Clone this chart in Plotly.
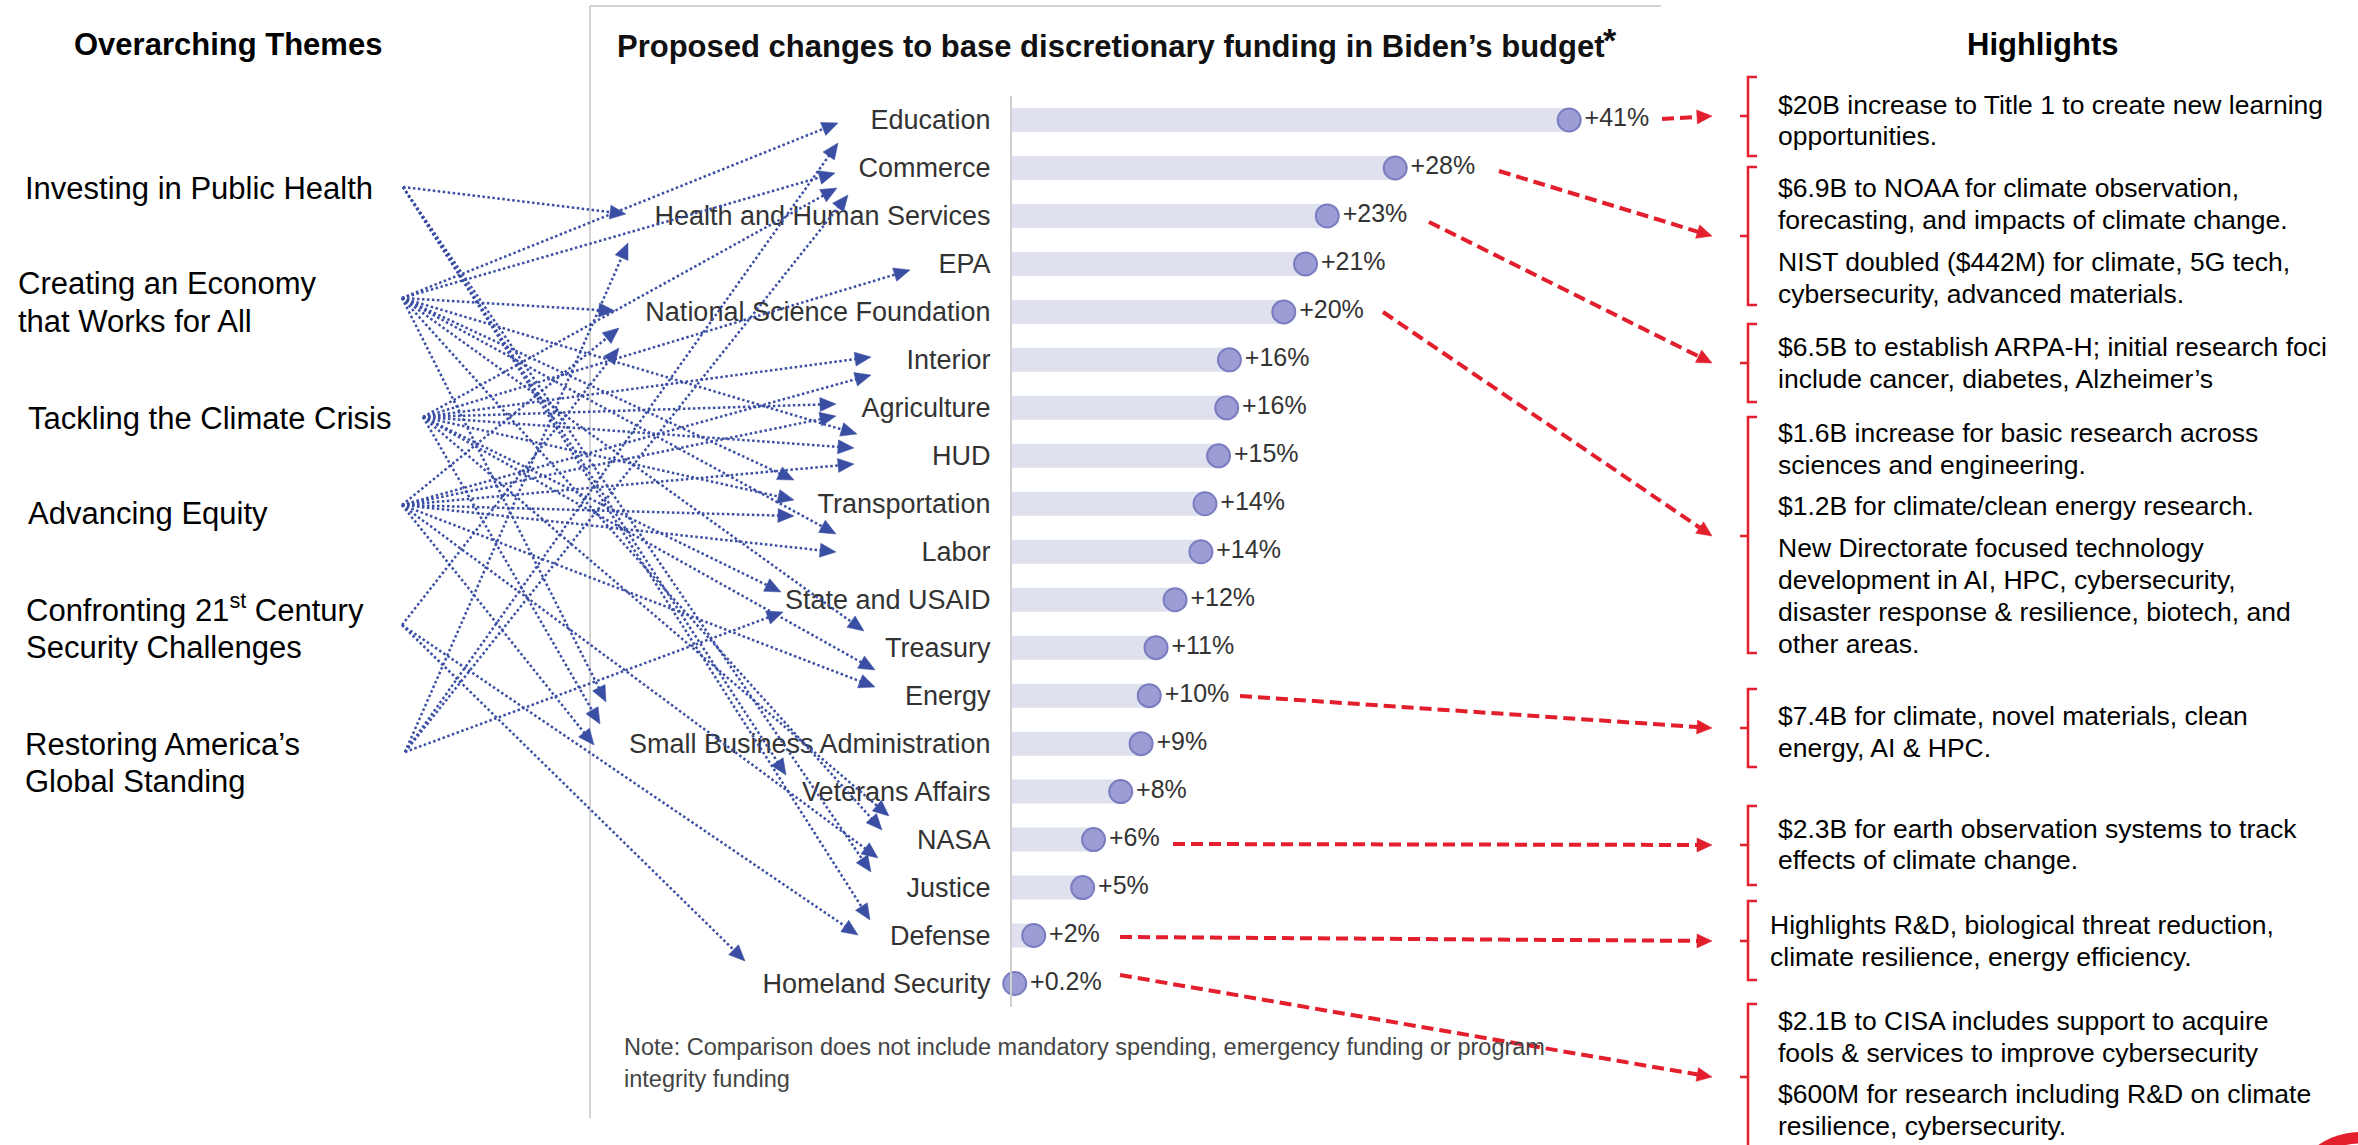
import plotly.graph_objects as go

W, H = 2358, 1145

# ---------------- data ----------------
departments = ["Education", "Commerce", "Health and Human Services", "EPA",
               "National Science Foundation", "Interior", "Agriculture", "HUD",
               "Transportation", "Labor", "State and USAID", "Treasury", "Energy",
               "Small Business Administration", "Veterans Affairs", "NASA",
               "Justice", "Defense", "Homeland Security"]
change_pct = [41, 28.2, 23.2, 21.6, 20, 16, 15.8, 15.2, 14.2, 13.9, 12, 10.6,
              10.1, 9.5, 8, 6, 5.2, 1.6, 0.2]
change_labels = ["+41%", "+28%", "+23%", "+21%", "+20%", "+16%", "+16%", "+15%",
                 "+14%", "+14%", "+12%", "+11%", "+10%", "+9%", "+8%", "+6%",
                 "+5%", "+2%", "+0.2%"]

themes = [["Investing in Public Health"],
          ["Creating an Economy", "that Works for All"],
          ["Tackling the Climate Crisis"],
          ["Advancing Equity"],
          ["Confronting 21<sup>st</sup> Century", "Security Challenges"],
          ["Restoring America’s", "Global Standing"]]

# theme index -> department links
link_theme = [1, 5, 1, 2, 5, 0, 5, 2, 1, 3, 4, 2, 3, 2, 3, 1, 2, 3, 1, 2, 3, 1, 3,
              2, 5, 1, 2, 3, 1, 2, 3, 0, 2, 1, 3, 0, 0, 4, 4]
link_dept = ["Education", "Education", "Commerce", "Commerce", "Commerce",
             "Health and Human Services", "Health and Human Services", "EPA",
             "National Science Foundation", "National Science Foundation",
             "National Science Foundation", "Interior", "Interior", "Agriculture",
             "Agriculture", "HUD", "HUD", "HUD", "Transportation", "Transportation",
             "Transportation", "Labor", "Labor", "State and USAID", "State and USAID",
             "Treasury", "Energy", "Energy", "Small Business Administration",
             "Small Business Administration", "Small Business Administration",
             "Veterans Affairs", "NASA", "NASA", "Justice", "Justice", "Defense",
             "Defense", "Homeland Security"]

highlight_depts = ["Education", "Commerce", "Health and Human Services",
                   "National Science Foundation", "Energy", "NASA", "Defense",
                   "Homeland Security"]
highlight_texts = [
    [["$20B increase to Title 1 to create new learning", "opportunities."]],
    [["$6.9B to NOAA for climate observation,", "forecasting, and impacts of climate change."],
     ["NIST doubled ($442M) for climate, 5G tech,", "cybersecurity, advanced materials."]],
    [["$6.5B to establish ARPA-H; initial research foci", "include cancer, diabetes, Alzheimer’s"]],
    [["$1.6B increase for basic research across", "sciences and engineering."],
     ["$1.2B for climate/clean energy research."],
     ["New Directorate focused technology", "development in AI, HPC, cybersecurity,",
      "disaster response & resilience, biotech, and", "other areas."]],
    [["$7.4B for climate, novel materials, clean", "energy, AI & HPC."]],
    [["$2.3B for earth observation systems to track", "effects of climate change."]],
    [["Highlights R&D, biological threat reduction,", "climate resilience, energy efficiency."]],
    [["$2.1B to CISA includes support to acquire", "fools & services to improve cybersecurity"],
     ["$600M for research including R&D on climate", "resilience, cybersecurity."]],
]

# ---------------- layout geometry (pixels) ----------------
theme_label_x = [23, 16, 26, 26, 24, 23]
theme_label_y = [[188], [284, 321], [418], [513], [608, 647], [744, 781]]
theme_origin = [(403, 187), (402, 298), (423, 417), (402, 505), (402, 625), (405, 752)]
link_tip = [(838, 123), (838, 143), (835, 173), (837, 188), (848, 195), (626, 214),
            (628, 243), (910, 270), (615, 311), (619, 328), (619, 348), (871, 357),
            (871, 375), (836, 404), (836, 416), (857, 434), (854, 448), (854, 464),
            (794, 480), (794, 500), (794, 516), (836, 534), (836, 552), (781, 592),
            (783, 612), (864, 631), (875, 670), (875, 687), (606, 702), (600, 724),
            (594, 745), (786, 775), (889, 816), (882, 830), (878, 858), (871, 872),
            (870, 920), (858, 935), (745, 961)]

red_start = [(1662, 119), (1499, 171), (1429, 222), (1383, 312), (1240, 696),
             (1173, 844), (1120, 937), (1120, 975)]
red_tip_x = 1712
bracket_tmb = [(77, 116, 156), (167, 236, 305), (324, 363, 402), (417, 536, 653),
               (689, 728, 767), (806, 845, 885), (901, 941, 980), (1004, 1077, 1165)]
highlight_x = [1776, 1776, 1776, 1776, 1776, 1776, 1768, 1776]
highlight_line_y = [[[105, 136]], [[188, 220], [262, 294]], [[347, 379]],
                    [[433, 465], [506], [548, 580, 612, 644]], [[716, 748]],
                    [[829, 860]], [[925, 957]], [[1021, 1053], [1094, 1126]]]

AX0, AX1 = 1012, 1012 + 50 * 13.59
ROW0, ROWN = 120, 983.5
ROWH = (ROWN - ROW0) / (len(departments) - 1)

BLUE = "#3a4ea3"
RED = "#e31e2d"
FONT = "Liberation Sans, Arial, sans-serif"


def px(x):
    return x / W


def py(y):
    return 1 - y / H


def arrow_head(x1, y1, x2, y2, length, half):
    dx, dy = x2 - x1, y2 - y1
    d = (dx * dx + dy * dy) ** 0.5
    ux, uy = dx / d, dy / d
    bx, by = x2 - ux * length, y2 - uy * length
    nx, ny = -uy, ux
    pts = [(x2, y2), (bx + nx * half, by + ny * half), (bx - nx * half, by - ny * half)]
    path = "M " + " L ".join(f"{px(a):.6f},{py(b):.6f}" for a, b in pts) + " Z"
    return path, (x2 - ux * length * 0.8, y2 - uy * length * 0.8)


shapes = []
annotations = []

# panel border
shapes.append(dict(type="line", xref="paper", yref="paper", x0=px(590), x1=px(590),
                   y0=py(6), y1=py(1118), line=dict(color="#c4c4c4", width=1.5)))
shapes.append(dict(type="line", xref="paper", yref="paper", x0=px(590), x1=px(1661),
                   y0=py(6), y1=py(6), line=dict(color="#c4c4c4", width=1.5)))

# blue dotted theme arrows
for t, (tx, ty) in zip(link_theme, link_tip):
    ox, oy = theme_origin[t]
    path, (ex, ey) = arrow_head(ox, oy, tx, ty, 16, 7)
    shapes.append(dict(type="line", xref="paper", yref="paper", x0=px(ox), y0=py(oy),
                       x1=px(ex), y1=py(ey), line=dict(color=BLUE, width=2.5, dash="2.5px,2.5px")))
    shapes.append(dict(type="path", xref="paper", yref="paper", path=path,
                       fillcolor=BLUE, line=dict(color=BLUE, width=0.5)))

# red dashed highlight arrows + brackets
for (sx, sy), (top, mid, bot) in zip(red_start, bracket_tmb):
    path, (ex, ey) = arrow_head(sx, sy, red_tip_x, mid, 15, 7)
    shapes.append(dict(type="line", xref="paper", yref="paper", x0=px(sx), y0=py(sy),
                       x1=px(ex), y1=py(ey), line=dict(color=RED, width=4, dash="12px,6px")))
    shapes.append(dict(type="path", xref="paper", yref="paper", path=path,
                       fillcolor=RED, line=dict(color=RED, width=0.5)))
    bpath = (f"M {px(1757):.6f},{py(top):.6f} L {px(1748):.6f},{py(top):.6f} "
             f"L {px(1748):.6f},{py(mid):.6f} L {px(1740):.6f},{py(mid):.6f} "
             f"L {px(1748):.6f},{py(mid):.6f} L {px(1748):.6f},{py(bot):.6f} "
             f"L {px(1757):.6f},{py(bot):.6f}")
    shapes.append(dict(type="path", xref="paper", yref="paper", path=bpath,
                       line=dict(color=RED, width=2.5)))

# logo fragment bottom-right
shapes.append(dict(type="circle", xref="paper", yref="paper",
                   x0=px(2287), x1=px(2433), y0=py(1132), y1=py(1278),
                   fillcolor=RED, line=dict(color=RED, width=0)))
shapes.append(dict(type="circle", xref="paper", yref="paper",
                   x0=px(2300), x1=px(2420), y0=py(1145), y1=py(1265),
                   line=dict(color="white", width=3)))

# titles
annotations.append(dict(text="<b>Overarching Themes</b>", x=px(228), y=py(45),
                        xref="paper", yref="paper", xanchor="center", yanchor="middle",
                        showarrow=False, font=dict(family=FONT, size=31, color="#000")))
annotations.append(dict(text="<b>Highlights</b>", x=px(2043), y=py(45),
                        xref="paper", yref="paper", xanchor="center", yanchor="middle",
                        showarrow=False, font=dict(family=FONT, size=31, color="#000")))
annotations.append(dict(text="<b>Proposed changes to base discretionary funding in Biden’s budget</b>",
                        x=px(615), y=py(46), xref="paper", yref="paper", xanchor="left",
                        yanchor="middle", showarrow=False,
                        font=dict(family=FONT, size=31, color="#111")))
annotations.append(dict(text="<b>*</b>", x=px(1601), y=py(40), xref="paper", yref="paper",
                        xanchor="left", yanchor="middle", showarrow=False,
                        font=dict(family=FONT, size=34, color="#111")))
annotations.append(dict(text="Note: Comparison does not include mandatory spending, emergency funding or program",
                        x=px(622), y=py(1047), xref="paper", yref="paper", xanchor="left",
                        yanchor="middle", showarrow=False,
                        font=dict(family=FONT, size=23.5, color="#444")))
annotations.append(dict(text="integrity funding", x=px(622), y=py(1079), xref="paper",
                        yref="paper", xanchor="left", yanchor="middle", showarrow=False,
                        font=dict(family=FONT, size=23.5, color="#444")))

# theme labels
for lines, lx, ys in zip(themes, theme_label_x, theme_label_y):
    for line, ly in zip(lines, ys):
        annotations.append(dict(text=line, x=px(lx), y=py(ly), xref="paper", yref="paper",
                                xanchor="left", yanchor="middle", showarrow=False,
                                font=dict(family=FONT, size=31, color="#000")))

# highlight texts
for paras, hx, ys_p in zip(highlight_texts, highlight_x, highlight_line_y):
    for para, ys in zip(paras, ys_p):
        for line, ly in zip(para, ys):
            annotations.append(dict(text=line, x=px(hx), y=py(ly), xref="paper",
                                    yref="paper", xanchor="left", yanchor="middle",
                                    showarrow=False,
                                    font=dict(family=FONT, size=26.5, color="#000")))

# ---------------- traces ----------------
fig = go.Figure()
fig.add_trace(go.Bar(x=change_pct, y=departments, orientation="h", width=0.5,
                     marker=dict(color="#dfe1ee", line=dict(width=0)),
                     hoverinfo="skip", showlegend=False))
fig.add_trace(go.Scatter(x=change_pct, y=departments, mode="markers+text",
                         text=change_labels, textposition="middle right",
                         textfont=dict(family=FONT, size=25, color="#333"),
                         marker=dict(size=23, color="#9b9dd4",
                                     line=dict(color="#7a7dc0", width=2)),
                         cliponaxis=False, hoverinfo="skip", showlegend=False))

fig.update_layout(
    width=W, height=H, margin=dict(l=0, r=0, t=0, b=0),
    paper_bgcolor="white", plot_bgcolor="rgba(0,0,0,0)",
    xaxis=dict(domain=[px(AX0), px(AX1)], range=[0, 50], visible=False),
    yaxis=dict(domain=[py(ROWN + ROWH / 2), py(ROW0 - ROWH / 2)], type="category",
               categoryorder="array", categoryarray=departments,
               range=[len(departments) - 0.5, -0.5], showline=True, linecolor="#d0d0d0",
               linewidth=2, ticks="", showgrid=False, zeroline=False,
               ticklabelstandoff=14,
               tickfont=dict(family=FONT, size=27, color="#333")),
    shapes=shapes, annotations=annotations, showlegend=False,
)

fig.write_html("out.html")
